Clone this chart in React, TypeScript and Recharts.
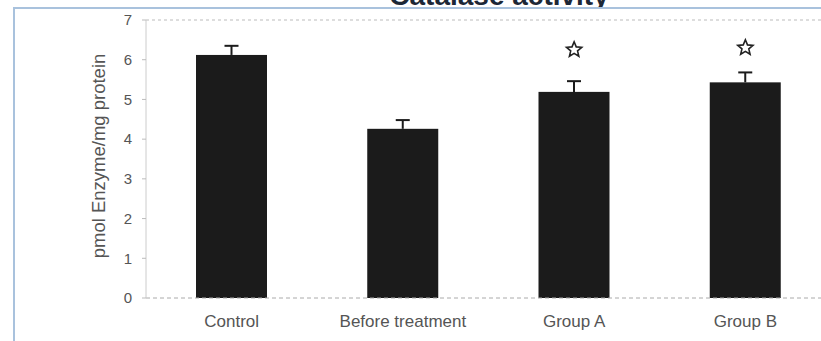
import {
  ComposedChart,
  Bar,
  Scatter,
  XAxis,
  YAxis,
  ReferenceLine
} from "recharts"

const groups = ["Control", "Before treatment", "Group A", "Group B"]
const activity = [6.12, 4.26, 5.19, 5.43]
const sem = [0.23, 0.22, 0.27, 0.25]
// significance marks (star height on the value scale), null = none
const stars = [null, null, 6.25, 6.3]
const yTicks = [0, 1, 2, 3, 4, 5, 6, 7]

const data = groups.map((g, i) => ({
  group: g,
  value: activity[i],
  err: sem[i],
  star: stars[i]
}))

// bar with an upward-only error whisker (scaled off the bar's own height)
const BarWithErr = (props: any) => {
  const { x, y, width, height, payload, fill } = props
  if (height == null || !payload) return null
  const perUnit = height / payload.value
  const top = y - payload.err * perUnit
  const cx = x + width / 2
  return (
    <g>
      <rect x={x} y={y} width={width} height={height} fill={fill} />
      <line x1={cx} y1={y} x2={cx} y2={top} stroke="#1b1b1b" strokeWidth={2} />
      <line x1={cx - 7} y1={top} x2={cx + 7} y2={top} stroke="#1b1b1b" strokeWidth={2} />
    </g>
  )
}

const StarShape = (props: any) => {
  const { cx, cy } = props
  if (cx == null || cy == null || props.payload?.star == null) return null
  const outer = 8
  const inner = 3.6
  const pts: string[] = []
  for (let k = 0; k < 10; k++) {
    const r = k % 2 === 0 ? outer : inner
    const a = -Math.PI / 2 + (k * Math.PI) / 5
    pts.push(`${cx + r * Math.cos(a)},${cy + r * Math.sin(a)}`)
  }
  return <polygon points={pts.join(" ")} fill="#fff" stroke="#222" strokeWidth={1.6} />
}

const YLabel = () => (
  <text
    x={100}
    y={156}
    transform="rotate(-90 100 156)"
    textAnchor="middle"
    dominantBaseline="middle"
    fontSize={18.5}
    fill="#555"
    fontFamily="Arial, 'Liberation Sans', sans-serif"
  >
    pmol Enzyme/mg protein
  </text>
)

export default function App() {
  return (
    <div
      style={{
        position: "relative",
        width: 821,
        height: 341,
        overflow: "hidden",
        background: "#fff",
        fontFamily: "Arial, 'Liberation Sans', sans-serif"
      }}
    >
      <style>{"body{margin:0;overflow:hidden}"}</style>
      <svg
        width={821}
        height={20}
        style={{ position: "absolute", left: 0, top: 0 }}
      >
        <text
          x={499}
          y={5}
          textAnchor="middle"
          fontSize={28}
          fontWeight="bold"
          fill="#1c2736"
          fontFamily="Arial, 'Liberation Sans', sans-serif"
        >
          Catalase activity
        </text>
      </svg>
      <div
        style={{
          position: "absolute",
          left: 13,
          top: 7,
          width: 900,
          height: 400,
          border: "2px solid #a9c2dd",
          background: "#fff"
        }}
      />
      <div style={{ position: "absolute", left: 0, top: 0 }}>
        <ComposedChart
          width={900}
          height={341}
          data={data}
          margin={{ top: 20, right: 69, bottom: 0, left: 0 }}
        >
          <ReferenceLine y={7} stroke="#bbb" strokeDasharray="3 3" />
          <XAxis
            dataKey="group"
            height={43}
            axisLine={{ stroke: "#aaa", strokeDasharray: "4 3" }}
            tickLine={false}
            tick={{ fontSize: 17, fill: "#555" }}
            tickMargin={11}
            interval={0}
          />
          <YAxis
            width={146}
            domain={[0, 7]}
            ticks={yTicks}
            axisLine={{ stroke: "#ccc" }}
            tickLine={{ stroke: "#bbb" }}
            tickSize={4}
            tickMargin={10}
            tick={{ fontSize: 15, fill: "#555" }}
            label={<YLabel />}
          />
          <Bar
            dataKey="value"
            barSize={71}
            fill="#1b1b1b"
            shape={<BarWithErr />}
            isAnimationActive={false}
          />
          <Scatter dataKey="star" shape={<StarShape />} isAnimationActive={false} />
        </ComposedChart>
      </div>
    </div>
  )
}
